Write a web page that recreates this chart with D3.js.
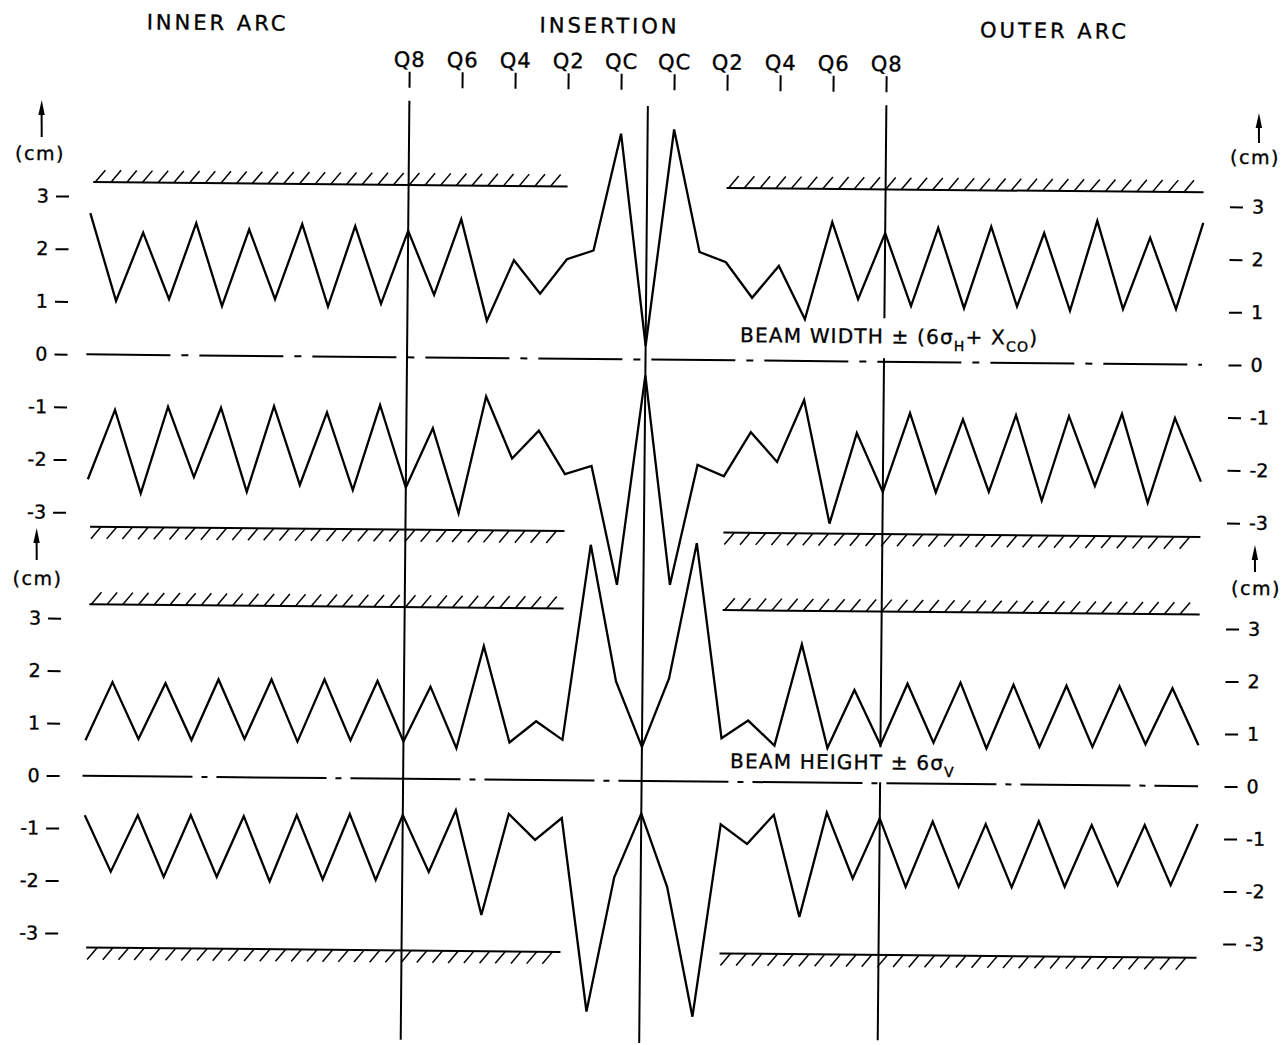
<!DOCTYPE html>
<html><head><meta charset="utf-8">
<script src="https://cdn.jsdelivr.net/npm/d3@7"></script>
<style>
html,body{margin:0;padding:0;background:#fff;}
svg{display:block;}
text{font-family:"DejaVu Sans",sans-serif;fill:#000;stroke:#000;stroke-width:0.35px;}
</style></head><body>
<svg id="chart" width="1285" height="1045"></svg>
<script>
// ---------------- data ----------------
// lattice position (quadrupole index, 0 = interaction point)
const lattice = d3.range(-21, 22);
// beam width envelope ±(6σH + Xco), cm
const widthUpper = [2.68,1.02,2.32,1.06,2.51,0.94,2.40,1.08,2.51,0.95,2.48,1.01,2.40,
  1.19,2.63,0.71,1.86,1.23,1.89,2.06,4.28,0.26,4.37,2.05,1.86,1.19,1.80,0.79,2.64,1.18,
  2.44,1.06,2.55,1.03,2.58,1.07,2.47,1.00,2.71,1.04,2.40,1.05,2.69];
const widthLower = [-2.37,-1.05,-2.63,-0.98,-2.31,-0.99,-2.58,-0.95,-2.44,-1.06,-2.53,-0.91,-2.47,
  -1.34,-2.95,-0.73,-1.90,-1.37,-2.19,-2.03,-4.28,-0.30,-4.27,-1.99,-2.20,-1.36,-1.92,-0.74,-3.08,-1.36,
  -2.47,-0.97,-2.47,-1.08,-2.45,-0.99,-2.61,-1.00,-2.32,-0.95,-2.63,-1.02,-2.22];
// beam height envelope ±6σV, cm
const heightUpper = [0.68,1.79,0.71,1.78,0.70,1.86,0.73,1.87,0.69,1.88,0.72,1.86,0.71,
  1.76,0.59,2.54,0.71,1.12,0.77,4.49,1.89,0.65,1.96,4.54,0.83,1.17,0.70,2.63,0.66,1.77,
  0.73,1.90,0.78,1.93,0.68,1.90,0.72,1.89,0.73,1.89,0.79,1.86,0.78];
const heightLower = [-0.75,-1.82,-0.74,-1.91,-0.73,-1.90,-0.74,-1.98,-0.71,-1.93,-0.68,-1.93,-0.69,
  -1.77,-0.59,-2.58,-0.65,-1.14,-0.72,-4.40,-1.84,-0.62,-2.01,-4.48,-0.81,-1.18,-0.62,-2.56,-0.57,-1.82,
  -0.67,-1.97,-0.72,-1.96,-0.76,-1.96,-0.70,-1.94,-0.76,-1.90,-0.75,-1.89,-0.72];
const quadLabels = ["Q8","Q6","Q4","Q2","QC","QC","Q2","Q4","Q6","Q8"];
const quadPositions = [-9,-7,-5,-3,-1,1,3,5,7,9];
const sectionLabels = ["INNER ARC","INSERTION","OUTER ARC"];
const axisTicks = [-3,-2,-1,0,1,2,3];
const aperture = 3.27;                       // vacuum chamber half-aperture, cm
const wallSpans = [[-20.9,-3.0],[3.0,21.0]]; // lattice extent of chamber walls
const zeroSpan = [-21.1, 21.0];
const markerLines = [-9, 0, 9];

// ---------------- layout ----------------
const tilt = 0.53, cx = 642, cy = 522;
const rad = tilt * Math.PI / 180;
function P(px, py) { // page position -> tilted frame
  const dx = px - cx, dy = py - cy;
  return [cx + dx*Math.cos(rad) + dy*Math.sin(rad), cy - dx*Math.sin(rad) + dy*Math.cos(rad)];
}
const svg = d3.select("#chart");
svg.append("rect").attr("width",1285).attr("height",1045).attr("fill","#fff");
const g = svg.append("g").attr("transform", `rotate(${tilt},${cx},${cy})`);

const x = d3.scaleLinear().domain([-9, 9]).range([405.5, 882.5]);
const yW = d3.scaleLinear().domain([-3, 3]).range([517.6, 201.4]);
const yH = d3.scaleLinear().domain([-3, 3]).range([938.5, 623.5]);

// zero (centre) lines
[[yW,"84,11,7,11"],[yH,"110,9,6,9"]].forEach(([y,dash]) => {
  g.append("line").attr("x1",x(zeroSpan[0])).attr("x2",x(zeroSpan[1]))
    .attr("y1",y(0)).attr("y2",y(0)).attr("stroke","#000").attr("stroke-width",2)
    .attr("stroke-dasharray",dash);
});

// chamber walls with hatching
[yW, yH].forEach(y => {
  [1,-1].forEach(sign => {
    wallSpans.forEach(([a,b]) => {
      const yy = y(sign*aperture), x0 = x(a), x1 = x(b);
      g.append("line").attr("x1",x0).attr("x2",x1).attr("y1",yy).attr("y2",yy)
        .attr("stroke","#000").attr("stroke-width",2);
      const hs = sign > 0 ? d3.range(x0+2, x1-9, 15.7) : d3.range(x0+11, x1, 15.7);
      g.selectAll(null).data(hs).enter().append("line")
        .attr("x1", d => d).attr("y1", yy)
        .attr("x2", d => sign > 0 ? d+10 : d-10).attr("y2", sign > 0 ? yy-12 : yy+12)
        .attr("stroke","#000").attr("stroke-width",1.5);
    });
  });
});

// vertical marker lines (Q8, IP, Q8)
const vSegs = {"-9": [[103,1042]], "0": [[106,1043]], "9": [[103,316],[356,745],[780,1038]]};
markerLines.forEach(k => {
  vSegs[String(k)].forEach(([a,b]) => {
    g.append("line").attr("x1",x(k)).attr("x2",x(k)).attr("y1",a).attr("y2",b)
      .attr("stroke","#000").attr("stroke-width",2);
  });
});

// envelopes
[[widthUpper,yW],[widthLower,yW],[heightUpper,yH],[heightLower,yH]].forEach(([vals,y]) => {
  const line = d3.line().x((d,i) => x(lattice[i])).y(d => y(d));
  g.append("path").attr("d", line(vals)).attr("fill","none")
    .attr("stroke","#000").attr("stroke-width",2.3).attr("stroke-linejoin","miter");
});

// axes
function styleAxis(sel) {
  sel.select(".domain").remove();
  sel.selectAll(".tick line").attr("stroke","#000").attr("stroke-width",2);
  sel.selectAll(".tick text").attr("font-size",19).attr("font-family","DejaVu Sans").attr("fill","#000");
}
const fmt = d => String(d);
g.append("g").attr("transform","translate(66,0)")
  .call(d3.axisLeft(yW).tickValues(axisTicks).tickSize(13).tickPadding(7).tickFormat(fmt)).call(styleAxis);
g.append("g").attr("transform","translate(62,0)")
  .call(d3.axisLeft(yH).tickValues(axisTicks).tickSize(13).tickPadding(7).tickFormat(fmt)).call(styleAxis);
g.append("g").attr("transform","translate(1227,0)")
  .call(d3.axisRight(yW).tickValues(axisTicks).tickSize(13).tickPadding(9).tickFormat(fmt)).call(styleAxis);
g.append("g").attr("transform","translate(1227,0)")
  .call(d3.axisRight(yH).tickValues(axisTicks).tickSize(13).tickPadding(9).tickFormat(fmt)).call(styleAxis);

// unit labels with arrows
const units = [[41.7,100,137,40,160],[36.7,528,560,37.5,585],[1259,113,143,1255,164],[1255,545,572,1256,595]];
units.forEach(([ax,tip,tail,tx,ty]) => {
  const t = P(ax,tip), b = P(ax,tail);
  g.append("line").attr("x1",t[0]).attr("y1",t[1]+10).attr("x2",b[0]).attr("y2",b[1])
    .attr("stroke","#000").attr("stroke-width",2);
  g.append("path").attr("d",`M${t[0]},${t[1]} L${t[0]-3.2},${t[1]+15} L${t[0]+3.2},${t[1]+15} Z`).attr("fill","#000");
  const p = P(tx,ty);
  g.append("text").attr("x",p[0]).attr("y",p[1]).attr("text-anchor","middle")
    .attr("font-size",19).attr("letter-spacing",1.5).text("(cm)");
});

// section labels
const secPos = [[216,30],[608,33],[1053,38]];
sectionLabels.forEach((s,i) => {
  const p = P(secPos[i][0], secPos[i][1]);
  g.append("text").attr("x",p[0]+1.5).attr("y",p[1]).attr("text-anchor","middle")
    .attr("font-size",21).attr("letter-spacing",3).text(s);
});

// quadrupole labels + tick marks
g.selectAll(null).data(quadLabels).enter().append("text")
  .attr("x",(d,i) => x(quadPositions[i])).attr("y",69).attr("text-anchor","middle")
  .attr("font-size",21).attr("letter-spacing",1).text(d => d);
g.selectAll(null).data(quadPositions).enter().append("line")
  .attr("x1",d => x(d)).attr("x2",d => x(d)).attr("y1",74).attr("y2",90)
  .attr("stroke","#000").attr("stroke-width",2);

// curve annotations
function annot(px, py, parts) {
  const p = P(px, py);
  const t = g.append("text").attr("x",p[0]).attr("y",p[1]).attr("font-size",20).attr("letter-spacing",1.2);
  parts.forEach(([s,sub]) => {
    t.append("tspan").attr("dy", sub === 1 ? 7 : (sub === -1 ? -7 : 0))
      .attr("font-size", sub === 1 ? 14 : 20).text(s);
  });
}
annot(740, 342, [["BEAM WIDTH ± (6σ",0],["H",1],["+ X",-1],["CO",1],[")",-1]]);
annot(730, 768, [["BEAM HEIGHT ± 6σ",0],["V",1]]);
</script>
</body></html>
